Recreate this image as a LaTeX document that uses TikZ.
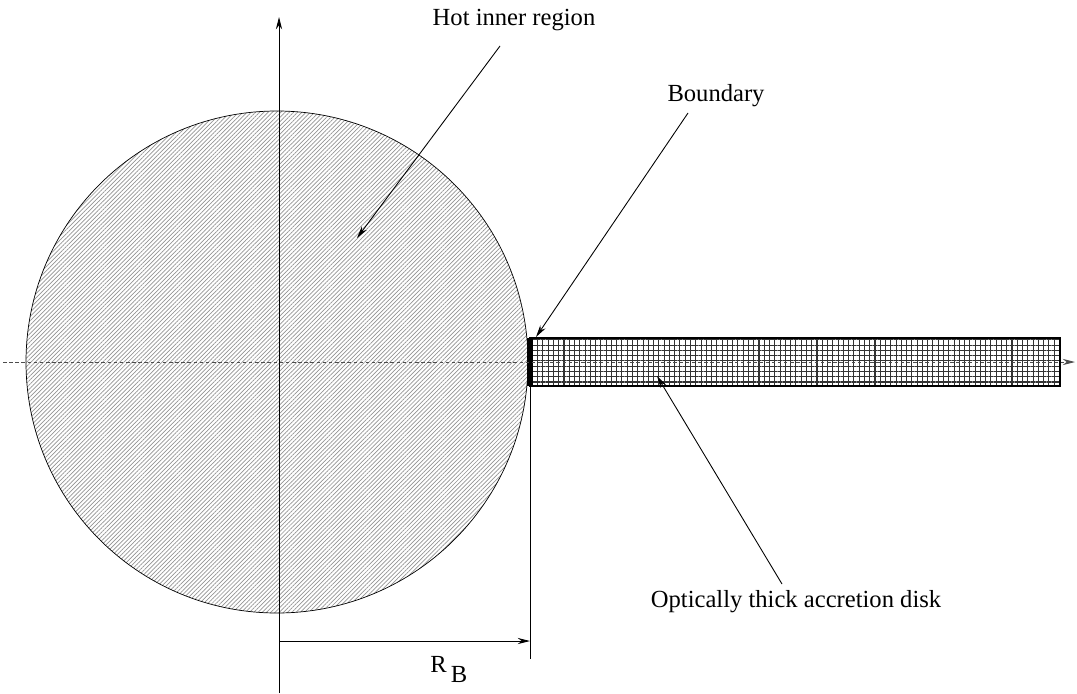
\documentclass[tikz,border=0pt]{standalone}
\usepackage{fontspec}
\setmainfont{Liberation Serif}
\usetikzlibrary{arrows.meta,patterns.meta}
\tikzset{
  pointer/.style={-{Stealth[length=7pt,width=3.5pt]}, line width=0.5pt},
  tag/.style={font=\fontsize{14}{16}\selectfont, inner sep=0pt},
}
\begin{document}
\begin{tikzpicture}[x=0.02cm,y=-0.02cm]
    \useasboundingbox (0,0) rectangle (1077,693);
    % hot inner region and disk
    \fill[pattern={Lines[angle=45,distance=1.7pt,line width=0.4pt]}, pattern color=gray!85] (277,362) circle[radius=251];
    \draw[line width=0.4pt] (277,362) circle[radius=251];
    \draw[line width=0.6pt, pattern={Hatch[angle=0,distance=3pt,line width=0.6pt]}, pattern color=black!80] (530,338) rectangle (1060,386);
    \fill (527,338) rectangle (533,386);
    % axes
    \coordinate (xl) at (3,362);
    \coordinate (xr) at (1075,362);
    \coordinate (yb) at (279,693);
    \coordinate (yt) at (279,17);
    \draw[pointer, dash pattern=on 2pt off 1.5pt, black!70] (xl) -- (xr);
    \draw[pointer] (yb) -- (yt);
    % labels
    \node[tag] (hot) at (514,20) {Hot inner region};
    \node[tag] (bnd) at (716,96) {Boundary};
    \node[tag] (dsk) at (796,602) {Optically thick accretion disk};
    \coordinate (hot0) at (500,46);
    \coordinate (hot1) at (357,238);
    \coordinate (bnd0) at (688,113);
    \coordinate (bnd1) at (536,337);
    \coordinate (dsk0) at (782,584);
    \coordinate (dsk1) at (657,376);
    \draw[pointer] (hot0) -- (hot1);
    \draw[pointer] (bnd0) -- (bnd1);
    \draw[pointer] (dsk0) -- (dsk1);
    % radius R_B
    \coordinate (r0) at (279,641);
    \coordinate (r1) at (530,641);
    \coordinate (rb) at (530,659);
    \draw[line width=0.5pt] (530,386) -- (rb);
    \draw[pointer] (r0) -- (r1);
    \node[tag, anchor=base west] (rlab) at (430,672) {R\,\raisebox{-6pt}{B}};
\end{tikzpicture}
\end{document}
